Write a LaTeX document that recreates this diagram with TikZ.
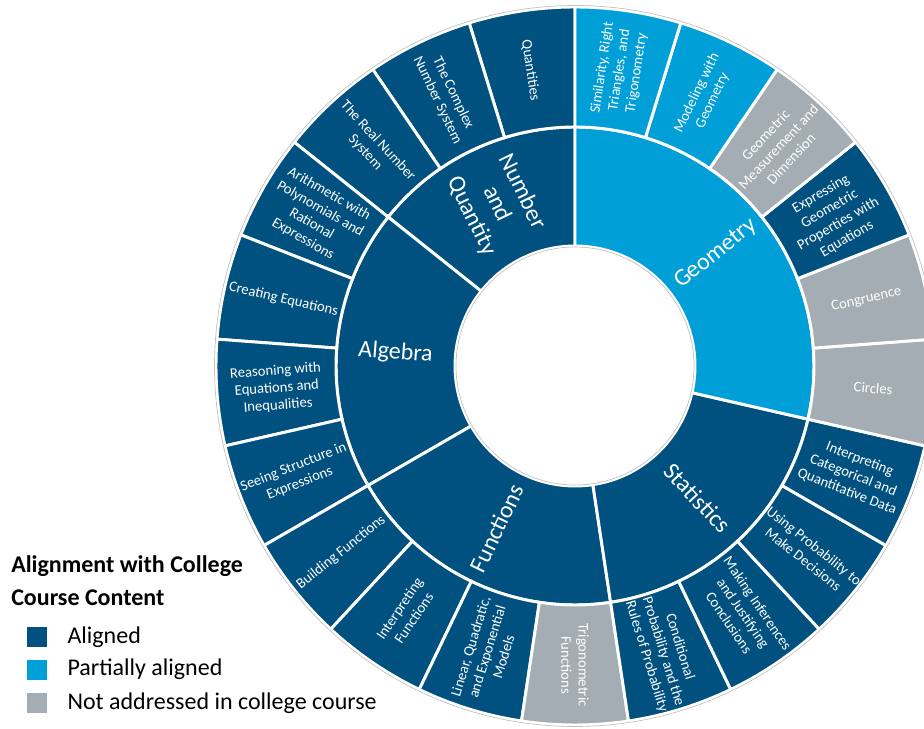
\documentclass[tikz,border=0pt]{standalone}
\usepackage{fontspec}
\setmainfont{Carlito}
\usetikzlibrary{positioning}
\definecolor{aligned}{HTML}{00517F}
\definecolor{partial}{HTML}{009FD7}
\definecolor{notaddr}{HTML}{A3ADB3}
\definecolor{ringedge}{gray}{0.75}

% annular slice: style, start angle, end angle, inner radius, outer radius
\newcommand{\ringslice}[5]{%
  \path[#1] (#2:#4) arc[start angle=#2, end angle=#3, radius=#4]
    -- (#3:#5) arc[start angle=#3, end angle=#2, radius=#5] -- cycle;}

\begin{document}
\begin{tikzpicture}[x=0.75pt, y=0.75pt,
    alignedslice/.style={fill=aligned, draw=white, line width=2.2pt},
    partialslice/.style={fill=partial, draw=white, line width=2.2pt},
    notaddrslice/.style={fill=notaddr, draw=white, line width=2.2pt},
    topiclabel/.style={text=white, align=center, inner sep=1pt, font=\fontsize{11}{13}\selectfont},
    domainlabel/.style={text=white, align=center, inner sep=1pt, font=\fontsize{18}{21}\selectfont},
    legendbox/.style={shape=rectangle, minimum size=15pt, inner sep=0pt},
    legendtext/.style={font=\fontsize{18}{22}\selectfont, inner sep=0pt}
]
% Frame (the chart runs off the right and bottom edges)
\path[use as bounding box] (-575,-362) rectangle (349,366);
\clip (-575,-362) rectangle (349,366);

% Inner ring: domains
\ringslice{alignedslice}{90}{141.43}{120}{239}
\ringslice{alignedslice}{141.43}{210}{120}{239}
\ringslice{alignedslice}{210}{278.57}{120}{239}
\ringslice{alignedslice}{278.57}{347.14}{120}{239}
\ringslice{partialslice}{347.14}{450}{120}{239}

% Outer ring: number and quantity
\ringslice{alignedslice}{90}{107.14}{239}{359}
\ringslice{alignedslice}{107.14}{124.29}{239}{359}
\ringslice{alignedslice}{124.29}{141.43}{239}{359}
% algebra
\ringslice{alignedslice}{141.43}{158.57}{239}{359}
\ringslice{alignedslice}{158.57}{175.71}{239}{359}
\ringslice{alignedslice}{175.71}{192.86}{239}{359}
\ringslice{alignedslice}{192.86}{210}{239}{359}
% functions
\ringslice{alignedslice}{210}{227.14}{239}{359}
\ringslice{alignedslice}{227.14}{244.29}{239}{359}
\ringslice{alignedslice}{244.29}{261.43}{239}{359}
\ringslice{notaddrslice}{261.43}{278.57}{239}{359}
% statistics
\ringslice{alignedslice}{278.57}{295.71}{239}{359}
\ringslice{alignedslice}{295.71}{312.86}{239}{359}
\ringslice{alignedslice}{312.86}{330}{239}{359}
\ringslice{alignedslice}{330}{347.14}{239}{359}
% geometry
\ringslice{notaddrslice}{347.14}{364.29}{239}{359}
\ringslice{notaddrslice}{364.29}{381.43}{239}{359}
\ringslice{alignedslice}{381.43}{398.57}{239}{359}
\ringslice{notaddrslice}{398.57}{415.71}{239}{359}
\ringslice{partialslice}{415.71}{432.86}{239}{359}
\ringslice{partialslice}{432.86}{450}{239}{359}

% thin edges
\draw[ringedge, line width=0.5pt] (0,0) circle[radius=360.5];
\draw[ringedge, line width=0.5pt] (0,0) circle[radius=119];

% Domain labels
\node[domainlabel, rotate=-64.29] (numquant) at (115.71:180) {Number\\and\\Quantity};
\node[domainlabel, rotate=-4.29] (algebra) at (175.71:180) {Algebra};
\node[domainlabel, rotate=64.29] (functions) at (244.29:180) {Functions};
\node[domainlabel, rotate=312.86] (statistics) at (312.86:180) {Statistics};
\node[domainlabel, rotate=38.57] (geometry) at (38.57:180) {Geometry};

% Topic labels
\node[topiclabel, rotate=-81.43] (quantities) at (98.57:299) {Quantities};
\node[topiclabel, rotate=-64.29] (complex) at (115.71:299) {The Complex\\Number System};
\node[topiclabel, rotate=-47.14] (realnum) at (132.86:299) {The Real Number\\System};
\node[topiclabel, rotate=-30] (arithmetic) at (150:299) {Arithmetic with\\Polynomials and\\Rational\\Expressions};
\node[topiclabel, rotate=-12.86] (creating) at (167.14:299) {Creating Equations};
\node[topiclabel, rotate=4.29] (reasoning) at (184.29:299) {Reasoning with\\Equations and\\Inequalities};
\node[topiclabel, rotate=21.43] (seeing) at (201.43:299) {Seeing Structure in\\Expressions};
\node[topiclabel, rotate=38.57] (building) at (218.57:299) {Building Functions};
\node[topiclabel, rotate=55.71] (interpfun) at (235.71:299) {Interpreting\\Functions};
\node[topiclabel, rotate=72.86] (linear) at (252.86:299) {Linear, Quadratic,\\and Exponential\\Models};
\node[topiclabel, rotate=270] (trigfun) at (270:299) {Trigonometric\\Functions};
\node[topiclabel, rotate=287.14] (conditional) at (287.14:299) {Conditional\\Probability and the\\Rules of Probability};
\node[topiclabel, rotate=304.29] (inferences) at (304.29:299) {Making Inferences\\and Justifying\\Conclusions};
\node[topiclabel, rotate=321.43] (usingprob) at (321.43:299) {Using Probability to\\Make Decisions};
\node[topiclabel, rotate=338.57] (categorical) at (338.57:299) {Interpreting\\Categorical and\\Quantitative Data};
\node[topiclabel, rotate=355.71] (circles) at (355.71:299) {Circles};
\node[topiclabel, rotate=12.86] (congruence) at (12.86:299) {Congruence};
\node[topiclabel, rotate=30] (expressing) at (30:299) {Expressing\\Geometric\\Properties with\\Equations};
\node[topiclabel, rotate=47.14] (measurement) at (47.14:299) {Geometric\\Measurement and\\Dimension};
\node[topiclabel, rotate=64.29] (modeling) at (64.29:299) {Modeling with\\Geometry};
\node[topiclabel, rotate=81.43] (similarity) at (81.43:299) {Similarity, Right\\Triangles, and\\Trigonometry};

% Legend
\node[legendtext, anchor=base west, font=\bfseries\fontsize{18}{22}\selectfont] (legendtitle) at (-564,-206) {Alignment with College};
\node[legendtext, anchor=base west, font=\bfseries\fontsize{18}{22}\selectfont] (legendtitlebis) at (-564,-239) {Course Content};

\node[legendbox, fill=aligned] (keyaligned) at (-538,-271) {};
\node[legendtext, right=15pt of keyaligned] (keyalignedtext) {Aligned};
\node[legendbox, fill=partial] (keypartial) at (-538,-303.5) {};
\node[legendtext, right=15pt of keypartial] (keypartialtext) {Partially aligned};
\node[legendbox, fill=notaddr] (keynotaddr) at (-538,-337) {};
\node[legendtext, right=15pt of keynotaddr] (keynotaddrtext) {Not addressed in college course};

\end{tikzpicture}
\end{document}
